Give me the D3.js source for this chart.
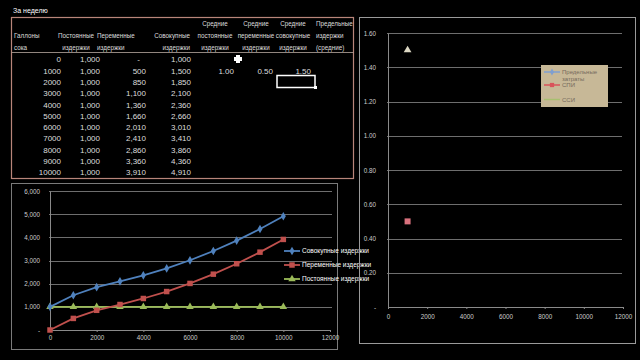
<!DOCTYPE html>
<html>
<head>
<meta charset="utf-8">
<script src="https://cdn.jsdelivr.net/npm/d3@7"></script>
<style>
  body { margin: 0; background: #000; }
  text { font-family: "Liberation Sans", Arial, sans-serif; }
</style>
</head>
<body>
<div id="chart"></div>
<script>
// table data
const gallons = [0, 1000, 2000, 3000, 4000, 5000, 6000, 7000, 8000, 9000, 10000];
const fixedCost = [1000, 1000, 1000, 1000, 1000, 1000, 1000, 1000, 1000, 1000, 1000];
const variableCost = [0, 500, 850, 1100, 1360, 1660, 2010, 2410, 2860, 3360, 3910];
const totalCost = [1000, 1500, 1850, 2100, 2360, 2660, 3010, 3410, 3860, 4360, 4910];
const avgFixed = [null, 1.00];
const avgVariable = [null, 0.50];
const avgTotal = [null, 1.50];

const leftTicksY = [0, 1000, 2000, 3000, 4000, 5000, 6000];
const ticksX = [0, 2000, 4000, 6000, 8000, 10000, 12000];
const rightTicksY = [0, 0.2, 0.4, 0.6, 0.8, 1.0, 1.2, 1.4, 1.6];

const width = 640, height = 360;
const svg = d3.select('#chart').append('svg')
    .attr('width', width).attr('height', height)
    .style('background', '#000');

const fmtInt = d3.format(',');
const fmt2 = d3.format('.2f');

// ---------- table ----------
svg.append('text').attr('x', 13).attr('y', 13)
    .style('font-size', '7px').style('fill', '#fff').text('За неделю');

svg.append('rect').attr('x', 11.5).attr('y', 17.5).attr('width', 342).attr('height', 161)
    .style('fill', 'none').style('stroke', '#b8857a').style('stroke-width', 1.2);
svg.append('line').attr('x1', 11.5).attr('x2', 353.5).attr('y1', 52.5).attr('y2', 52.5)
    .style('stroke', '#b8a8a0').style('stroke-width', 0.8);

const headers = [
  {lines: ['', 'Галлоны', 'сока'], x: 14, anchor: 'start'},
  {lines: ['', 'Постоянные', 'издержки'], x: 76, anchor: 'middle'},
  {lines: ['', 'Переменные', 'издержки'], x: 97, anchor: 'start'},
  {lines: ['', 'Совокупные', 'издержки'], x: 190, anchor: 'end'},
  {lines: ['Средние', 'постоянные', 'издержки'], x: 215, anchor: 'middle'},
  {lines: ['Средние', 'переменные', 'издержки'], x: 256, anchor: 'middle'},
  {lines: ['Средние', 'совокупные', 'издержки'], x: 293, anchor: 'middle'},
  {lines: ['Предельные', 'издержки', '(средние)'], x: 316, anchor: 'start'}
];
headers.forEach(h => {
  h.lines.forEach((t, i) => {
    svg.append('text').attr('x', h.x).attr('y', 26 + i * 12)
        .style('text-anchor', h.anchor).style('font-size', '6.3px').style('fill', '#ddd')
        .text(t);
  });
});

let rowY = d3.scaleBand().domain(gallons).range([54, 178]);
const cols = [
  {x: 61, vals: gallons, f: d => d},
  {x: 100, vals: fixedCost, f: d => fmtInt(d)},
  {x: 146, vals: variableCost, f: d => d === 0 ? '-' : fmtInt(d)},
  {x: 191, vals: totalCost, f: d => fmtInt(d)},
  {x: 234, vals: avgFixed, f: d => fmt2(d)},
  {x: 273, vals: avgVariable, f: d => fmt2(d)},
  {x: 311, vals: avgTotal, f: d => fmt2(d)}
];
cols.forEach(c => {
  svg.append('g').selectAll('text')
      .data(c.vals.map((v, i) => ({v, g: gallons[i]})).filter(d => d.v !== null))
      .enter().append('text')
      .attr('x', d => (c.vals === variableCost && d.v === 0) ? c.x - 6 : c.x)
      .attr('y', d => rowY(d.g) + rowY.bandwidth() / 2 + 2.8)
      .style('text-anchor', 'end').style('font-size', '8px').style('fill', '#ddd')
      .text(d => c.f(d.v));
});

// cursor and cell selection
svg.append('path').attr('d', 'M236,56h4v2h2v4h-2v2h-4v-2h-2v-4h2z')
    .attr('transform', 'translate(0,-1)')
    .style('fill', '#fff');
svg.append('rect').attr('x', 277).attr('y', 75.5).attr('width', 38).attr('height', 12)
    .style('fill', 'none').style('stroke', '#fff').style('stroke-width', 1.5);
svg.append('rect').attr('x', 314).attr('y', 86).attr('width', 3).attr('height', 3).style('fill', '#fff');

// ---------- left chart ----------
svg.append('rect').attr('x', 11.5).attr('y', 183.5).attr('width', 326).attr('height', 166)
    .style('fill', '#000').style('stroke', '#7a7a7a').style('stroke-width', 1);

let x = d3.scaleLinear().domain([0, 12000]).range([50, 330]);
let y = d3.scaleLinear().domain([0, 6000]).range([330, 191]);

svg.append('g').selectAll('line').data(leftTicksY.filter(d => d > 0)).enter().append('line')
    .attr('x1', 49).attr('x2', 332)
    .attr('y1', d => Math.round(y(d)) + 0.5).attr('y2', d => Math.round(y(d)) + 0.5)
    .style('stroke', '#8a8a8a').style('stroke-width', 0.8);

let xAxisL = svg.append('g').attr('transform', `translate(0, ${y(0)})`)
    .call(d3.axisBottom(x).tickValues(ticksX).tickSize(2).tickPadding(4).tickFormat(d => d));
let yAxisL = svg.append('g').attr('transform', `translate(${x(0)}, 0)`)
    .call(d3.axisLeft(y).tickValues(leftTicksY).tickSize(0).tickPadding(10)
        .tickFormat(d => d === 0 ? '-' : fmtInt(d)));
[xAxisL, yAxisL].forEach(a => {
  a.selectAll('path, line').style('stroke', '#8a8a8a');
  a.selectAll('text').style('fill', '#ccc').style('font-size', '6.3px')
      .style('font-family', '"Liberation Sans", Arial, sans-serif');
});

const series = [
  {name: 'Совокупные издержки', vals: totalCost, color: '#4f81bd', sym: d3.symbolDiamond, size: 22},
  {name: 'Переменные издержки', vals: variableCost, color: '#c0504d', sym: d3.symbolSquare, size: 30},
  {name: 'Постоянные издержки', vals: fixedCost, color: '#9bbb59', sym: d3.symbolTriangle, size: 24}
];
let line = d3.line().x((d, i) => x(gallons[i])).y(d => y(d));

series.slice().reverse().forEach(s => {
  svg.append('path').datum(s.vals).attr('d', line)
      .style('fill', 'none').style('stroke', s.color).style('stroke-width', 1.8);
  svg.append('g').selectAll('path').data(s.vals).enter().append('path')
      .attr('d', d3.symbol().type(s.sym).size(s.size))
      .attr('transform', (d, i) => `translate(${x(gallons[i])}, ${y(d)})`)
      .style('fill', s.color);
});

series.forEach((s, i) => {
  let ly = 251 + i * 14;
  svg.append('line').attr('x1', 284).attr('x2', 300).attr('y1', ly).attr('y2', ly)
      .style('stroke', s.color).style('stroke-width', 1.8);
  svg.append('path').attr('d', d3.symbol().type(s.sym).size(s.size))
      .attr('transform', `translate(292, ${ly})`).style('fill', s.color);
  svg.append('text').attr('x', 302).attr('y', ly + 2.3)
      .style('font-size', '6.5px').style('fill', '#fff').text(s.name);
});

// ---------- right chart ----------
svg.append('rect').attr('x', 359.5).attr('y', 17.5).attr('width', 276).attr('height', 326)
    .style('fill', 'none').style('stroke', '#9a9a9a').style('stroke-width', 1);

let x2 = d3.scaleLinear().domain([0, 12000]).range([388, 623]);
let y2 = d3.scaleLinear().domain([0, 1.6]).range([307, 33]);

svg.append('g').selectAll('line').data(rightTicksY.filter(d => d > 0)).enter().append('line')
    .attr('x1', 387).attr('x2', 622)
    .attr('y1', d => Math.round(y2(d)) + 0.5).attr('y2', d => Math.round(y2(d)) + 0.5)
    .style('stroke', '#8a8a8a').style('stroke-width', 0.8);

let xAxisR = svg.append('g').attr('transform', `translate(0, ${y2(0)})`)
    .call(d3.axisBottom(x2).tickValues(ticksX).tickSize(2).tickPadding(6).tickFormat(d => d));
let yAxisR = svg.append('g').attr('transform', `translate(${x2(0)}, 0)`)
    .call(d3.axisLeft(y2).tickValues(rightTicksY).tickSize(0).tickPadding(12)
        .tickFormat(d => d === 0 ? '-' : fmt2(d)));
[xAxisR, yAxisR].forEach(a => {
  a.selectAll('path, line').style('stroke', '#8a8a8a');
  a.selectAll('text').style('fill', '#ccc').style('font-size', '6.3px')
      .style('font-family', '"Liberation Sans", Arial, sans-serif');
});

// points: СПИ and ССИ at 1000 gallons
const avgPoints = [
  {g: gallons[1], v: avgVariable[1], color: '#d9717d', sym: d3.symbolSquare, size: 36},
  {g: gallons[1], v: avgTotal[1], color: '#dcd8c4', sym: d3.symbolTriangle, size: 26}
];
svg.append('g').selectAll('path').data(avgPoints).enter().append('path')
    .attr('d', d => d3.symbol().type(d.sym).size(d.size)())
    .attr('transform', d => `translate(${x2(d.g)}, ${y2(d.v)})`)
    .style('fill', d => d.color);

// legend
svg.append('rect').attr('x', 541).attr('y', 65).attr('width', 67).attr('height', 42)
    .style('fill', '#c7b897');
const legendR = [
  {lines: ['Предельные', 'затраты'], ly: 72, color: '#7f9fd0', sym: d3.symbolDiamond, size: 14},
  {lines: ['СПИ'], ly: 85, color: '#d9535a', sym: d3.symbolSquare, size: 18},
  {lines: ['ССИ'], ly: 99.5, color: '#a8c070', sym: null, size: 0}
];
legendR.forEach(l => {
  svg.append('line').attr('x1', 544).attr('x2', 560).attr('y1', l.ly).attr('y2', l.ly)
      .style('stroke', l.color).style('stroke-width', 1.5);
  if (l.sym) {
    svg.append('path').attr('d', d3.symbol().type(l.sym).size(l.size))
        .attr('transform', `translate(552, ${l.ly})`).style('fill', l.color);
  }
  l.lines.forEach((t, i) => {
    svg.append('text').attr('x', 562).attr('y', l.ly + 2 + i * 6.5)
        .style('font-size', '6px').style('fill', '#756a5c').text(t);
  });
});
</script>
</body>
</html>
